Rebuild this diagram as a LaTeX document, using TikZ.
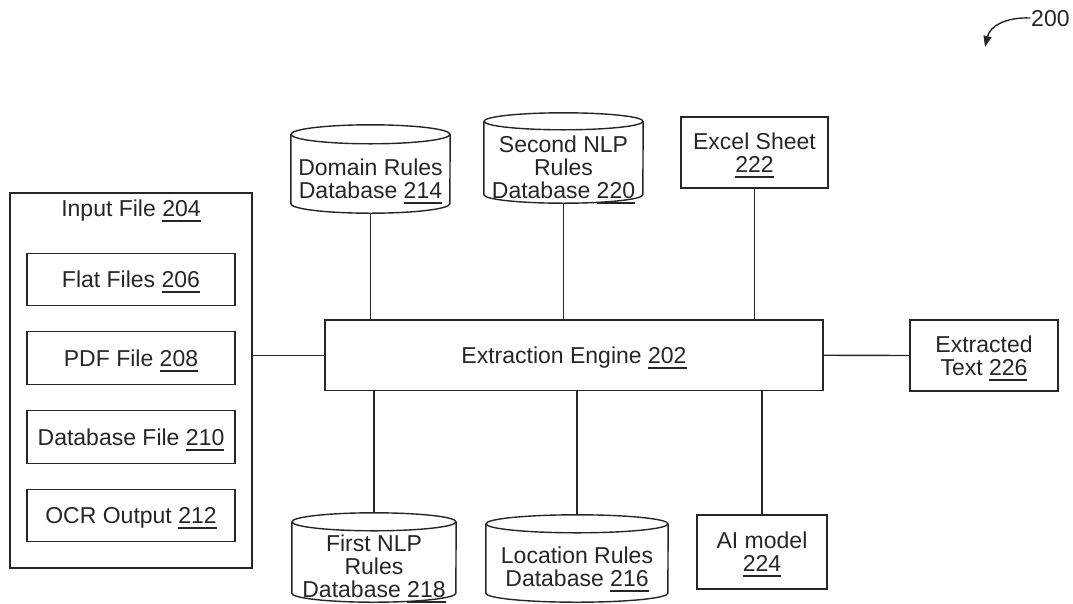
\documentclass[tikz,border=0pt]{standalone}
\usepackage{fontspec}
\setmainfont{Liberation Sans}
\usetikzlibrary{calc,arrows.meta}

% reference numeral with a heavy underline that adds no depth
\newcommand\rn[1]{\setbox0=\hbox{#1}\rlap{\raisebox{-5.5pt}[0pt][0pt]{\rule{\wd0}{2pt}}}\box0}

% database drum drawn round a named, invisible node: #1 node, #2 x radius, #3 y radius
\newcommand\drum[3]{%
  \draw[ln] ($(#1.north west)+(0pt,-#3)$) -- ($(#1.south west)+(0pt,#3)$)
    arc[start angle=180,end angle=360,x radius=#2,y radius=#3]
    -- ($(#1.north east)+(0pt,-#3)$);
  \draw[ln] ($(#1.north)+(0pt,-#3)$) ellipse[x radius=#2,y radius=#3];}

\begin{document}
\begin{tikzpicture}[x=1pt,y=-1pt,
  font=\fontsize{23pt}{23pt}\selectfont, color=black!85,
  ln/.style={line width=1.4pt, draw=black!85},
  box/.style={ln, rectangle, inner sep=0pt},
  one/.style={text height=16.5pt, text depth=0pt},
  multi/.style={align=center},
  drumbody/.style={rectangle, inner sep=0pt}]

\useasboundingbox (0,0) rectangle (1073,603);

% input file group
\node[box, minimum width=242pt, minimum height=375pt] (inp) at (131,380.5) {};
\node[one] (inpt) at (131,208) {Input File \rn{204}};
\node[box, one, minimum width=208pt, minimum height=52.5pt] (flat) at (131,279.5) {Flat Files \rn{206}};
\node[box, one, minimum width=208pt, minimum height=52.5pt] (pdf) at (131,358) {PDF File \rn{208}};
\node[box, one, minimum width=208pt, minimum height=52.5pt] (dbf) at (131,437) {Database File \rn{210}};
\node[box, one, minimum width=208pt, minimum height=52.5pt] (ocr) at (131,515.5) {OCR Output \rn{212}};

% engine and output
\node[box, one, minimum width=498pt, minimum height=70.5pt] (eng) at (574,355.25) {Extraction Engine \rn{202}};
\node[box, multi, minimum width=148pt, minimum height=71pt] (ext) at (984,355.5) {Extracted\\Text \rn{226}};

% upper sources
\node[drumbody, minimum width=159pt, minimum height=88pt] (dom) at (370.5,169) {};
\drum{dom}{79.5pt}{9.5pt}
\node[multi] (domt) at (370.5,178.5) {Domain Rules\\Database \rn{214}};

\node[drumbody, minimum width=159pt, minimum height=90pt] (snlp) at (563.5,158) {};
\drum{snlp}{79.5pt}{8.5pt}
\node[multi] (snlpt) at (563.5,167) {Second NLP\\Rules\\Database \rn{220}};

\node[box, multi, minimum width=147pt, minimum height=71pt] (xls) at (754.5,152.5) {Excel Sheet\\\rn{222}};

% lower sources
\node[drumbody, minimum width=164pt, minimum height=89pt] (fnlp) at (374,557.5) {};
\drum{fnlp}{82pt}{9pt}
\node[multi] (fnlpt) at (374,566) {First NLP\\Rules\\Database \rn{218}};

\node[drumbody, minimum width=182pt, minimum height=87pt] (loc) at (577,558.5) {};
\drum{loc}{91pt}{9pt}
\node[multi] (loct) at (577,567) {Location Rules\\Database \rn{216}};

\node[box, multi, minimum width=130pt, minimum height=74pt] (ai) at (762,552) {AI model\\\rn{224}};

% connectors
\draw[ln] (dom.south) -- (dom.south |- eng.north);
\draw[ln] (snlp.south) -- (snlp.south |- eng.north);
\draw[ln] (xls.south) -- (xls.south |- eng.north);
\draw[ln] (fnlp.north) -- (fnlp.north |- eng.south);
\draw[ln] (loc.north) -- (loc.north |- eng.south);
\draw[ln] (ai.north) -- (ai.north |- eng.south);
\draw[ln] (eng.west) -- (eng.west -| inp.east);
\draw[ln] (eng.east) -- (ext.west);

% figure number with leader
\node[one, anchor=west, inner sep=1pt] (fig) at (1030,18) {200};
\draw[ln, -{Triangle[length=11pt,width=8pt]}] (fig.west) .. controls (1006,17) and (990,26) .. (985,47);
\end{tikzpicture}
\end{document}
